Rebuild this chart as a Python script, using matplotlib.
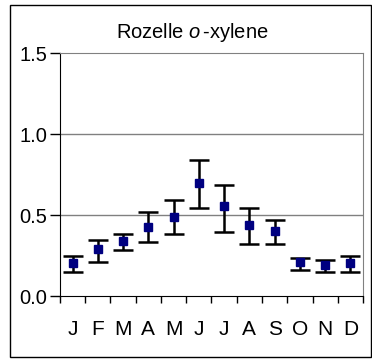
import numpy as np
import matplotlib
matplotlib.use("Agg")
import matplotlib.pyplot as plt
from matplotlib.patches import Rectangle

# monthly means with lower / upper error bar ends
months = ["J", "F", "M", "A", "M", "J", "J", "A", "S", "O", "N", "D"]
mean = [0.204, 0.29, 0.34, 0.427, 0.489, 0.70, 0.553, 0.44, 0.40, 0.209, 0.194, 0.204]
lower = [0.149, 0.213, 0.285, 0.334, 0.386, 0.545, 0.396, 0.324, 0.324, 0.163, 0.151, 0.149]
upper = [0.25, 0.347, 0.386, 0.52, 0.594, 0.842, 0.684, 0.545, 0.47, 0.235, 0.223, 0.248]
yticks = [0.0, 0.5, 1.0, 1.5]

plt.rcParams['font.family'] = ['Liberation Sans', 'DejaVu Sans']
plt.rcParams['mathtext.fontset'] = 'custom'
plt.rcParams['mathtext.rm'] = 'Liberation Sans'
plt.rcParams['mathtext.it'] = 'Liberation Sans:italic'

fig = plt.figure(figsize=(3.72, 3.61), dpi=100)
ax = fig.add_axes([0.161, 0.180, 0.815, 0.673])

x = np.arange(len(months))
mean = np.array(mean)
yerr = [mean - np.array(lower), np.array(upper) - mean]
ax.errorbar(x, mean, yerr=yerr, fmt='s', color='#000080', markersize=6,
            ecolor='black', elinewidth=1.8, capsize=7.5, capthick=1.8, zorder=3)

ax.set_xlim(-0.5, len(months) - 0.5)
ax.set_ylim(0, 1.5)
ax.set_yticks(yticks)
ax.set_yticklabels(["%.1f" % v for v in yticks], fontsize=14.5)
ax.set_xticks(x)
ax.set_xticklabels(months, fontsize=15)
ax.set_xticks(np.arange(len(months) + 1) - 0.5, minor=True)
ax.tick_params(axis='x', which='major', length=0, pad=17)
ax.tick_params(axis='x', which='minor', length=5, width=1, color='black')
ax.tick_params(axis='y', length=7, width=1, pad=2)

for v in [0.5, 1.0]:
    ax.axhline(v, color='#808080', linewidth=1, zorder=1)

ax.spines['left'].set_color('black')
ax.spines['bottom'].set_color('black')
ax.spines['top'].set_color('#808080')
ax.spines['right'].set_color('#808080')

fig.text(192 / 372, 1 - 32 / 361, "Rozelle $\\it{o}\\,$-xylene", fontsize=14.5,
         ha='center', va='center')

fig.patches.append(Rectangle((10 / 372, 1 - 357 / 361), 361 / 372, 352 / 361,
                             transform=fig.transFigure, fill=False,
                             edgecolor='black', linewidth=1))

fig.savefig("out.png", dpi=100)
